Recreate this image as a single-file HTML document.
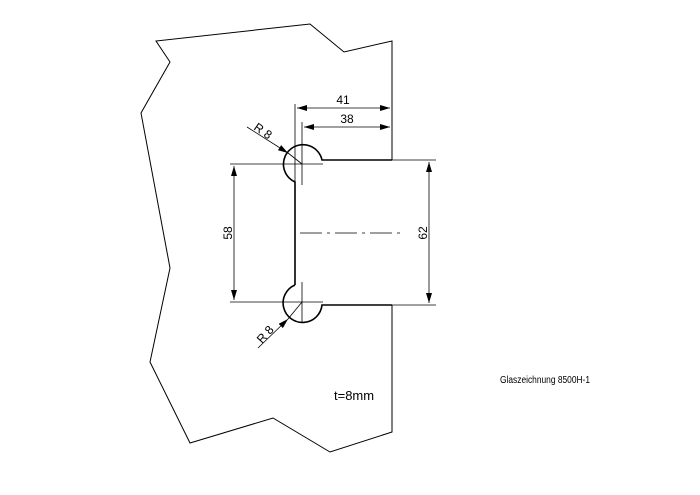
<!DOCTYPE html>
<html><head><meta charset="utf-8"><style>html,body{margin:0;padding:0;background:#fff;}svg{display:block}</style></head>
<body>
<svg width="700" height="495" viewBox="0 0 700 495" xmlns="http://www.w3.org/2000/svg" font-family="Liberation Sans, sans-serif">
<defs>
<marker id="a" viewBox="0 0 10 6" refX="10" refY="3" markerWidth="10" markerHeight="6" orient="auto-start-reverse" markerUnits="userSpaceOnUse"><path d="M0,0L10,3L0,6z" fill="#000"/></marker>
</defs>
<g fill="none" stroke="#000" stroke-width="1">
<polyline points="392,160 392,41 344,52 310,24 156,41 170,62 141,113 170,268 150,362 190,443 273,418 330,452 392,432 392,305"/>
</g>
<g fill="none" stroke="#000" stroke-width="1.6">
<path d="M295,285 L295,182 A19.5,19.5 0 1 1 322,160 L392,160"/>
<path d="M295,285 A19.5,19.5 0 1 0 322,305 L392,305"/>
</g>
<g fill="none" stroke="#000" stroke-width="0.8">
<line x1="392" y1="160" x2="436" y2="160"/>
<line x1="392" y1="305" x2="436" y2="305"/>
<line x1="429" y1="162" x2="429" y2="303" marker-start="url(#a)" marker-end="url(#a)"/>
<line x1="230" y1="164" x2="323" y2="164"/>
<line x1="230" y1="302" x2="323" y2="302"/>
<line x1="234" y1="166" x2="234" y2="300" marker-start="url(#a)" marker-end="url(#a)"/>
<line x1="295" y1="104" x2="295" y2="182"/>
<line x1="302" y1="122" x2="302" y2="185"/>
<line x1="302" y1="282" x2="302" y2="322"/>
<line x1="297" y1="108" x2="390" y2="108" marker-start="url(#a)" marker-end="url(#a)"/>
<line x1="304" y1="127" x2="390" y2="127" marker-start="url(#a)" marker-end="url(#a)"/>
<line x1="300" y1="233" x2="400" y2="233" stroke-dasharray="22,5,3,5"/>
<line x1="247" y1="127" x2="288" y2="153" marker-end="url(#a)"/>
<line x1="258" y1="348" x2="288" y2="319" marker-end="url(#a)"/>
<line x1="288" y1="319" x2="302" y2="302"/>
<line x1="288" y1="153" x2="302" y2="164"/>
</g>
<g font-size="12" fill="#000">
<text x="343" y="104" text-anchor="middle">41</text>
<text x="347" y="123" text-anchor="middle">38</text>
<text transform="translate(232,233) rotate(-90)" text-anchor="middle">58</text>
<text transform="translate(427,233) rotate(-90)" text-anchor="middle">62</text>
<text transform="translate(253,129) rotate(35)">R 8</text>
<text transform="translate(262,344) rotate(-48)">R 8</text>
<text x="334" y="400" font-size="13">t=8mm</text>
<text x="500" y="383" font-size="10" textLength="90" lengthAdjust="spacingAndGlyphs">Glaszeichnung 8500H-1</text>
</g>
</svg>
</body></html>
